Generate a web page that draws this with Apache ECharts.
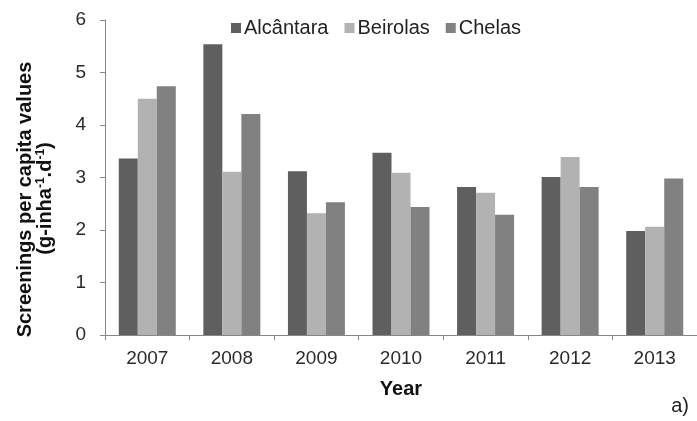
<!DOCTYPE html>
<html>
<head>
<meta charset="utf-8">
<script src="https://cdn.jsdelivr.net/npm/echarts@6/dist/echarts.min.js"></script>
<style>
  html, body { margin: 0; padding: 0; background: #ffffff; }
  #chart { width: 697px; height: 421px; }
</style>
</head>
<body>
<div id="chart"></div>
<script>
// Screenings per capita values by treatment plant, 2007–2013
const years = ['2007', '2008', '2009', '2010', '2011', '2012', '2013'];
const alcantara = [3.36, 5.54, 3.12, 3.47, 2.82, 3.01, 1.98];
const beirolas  = [4.50, 3.11, 2.32, 3.09, 2.71, 3.39, 2.06];
const chelas    = [4.74, 4.21, 2.53, 2.44, 2.29, 2.82, 2.98];
const seriesNames = ['Alcântara', 'Beirolas', 'Chelas'];
const seriesColors = ['#5f5f5f', '#b2b2b2', '#818181'];

const FONT = '"Liberation Sans", Arial, sans-serif';
const chart = echarts.init(document.getElementById('chart'), null, { renderer: 'canvas' });

const makeBar = (name, data, color) => ({
  name: name,
  type: 'bar',
  data: data,
  barWidth: 19,
  barGap: '0%',
  itemStyle: { color: color }
});

chart.setOption({
  animation: false,
  backgroundColor: '#ffffff',
  textStyle: { fontFamily: FONT },
  grid: { left: 105, right: 0, top: 20, bottom: 86 },
  legend: {
    data: seriesNames,
    left: 226,
    top: 13,
    icon: 'rect',
    itemWidth: 10,
    itemHeight: 10,
    itemGap: 16,
    textStyle: { fontFamily: FONT, fontSize: 20, color: '#222', padding: [0, 0, 0, -2] }
  },
  xAxis: {
    type: 'category',
    data: years,
    axisLine: { lineStyle: { color: '#868686', width: 1 } },
    axisTick: { show: true, length: 5, lineStyle: { color: '#868686' } },
    axisLabel: { fontFamily: FONT, fontSize: 19, color: '#2a2a2a', margin: 14 },
    name: 'Year',
    nameLocation: 'middle',
    nameGap: 44,
    nameTextStyle: { fontFamily: FONT, fontSize: 20, fontWeight: 'bold', color: '#111' }
  },
  yAxis: {
    type: 'value',
    min: 0,
    max: 6,
    interval: 1,
    splitLine: { show: false },
    axisLine: { show: true, lineStyle: { color: '#868686', width: 1 } },
    axisTick: { show: true, length: 5, lineStyle: { color: '#868686' } },
    axisLabel: { fontFamily: FONT, fontSize: 19, color: '#2a2a2a', margin: 19 },
    name: '{t1|Screenings per capita values}\n{t2|(g-inha}{sup|-1}{t2|.d}{sup|-1}{end|)}',
    nameLocation: 'middle',
    nameRotate: 90,
    nameGap: 50,
    nameTextStyle: {
      fontFamily: FONT,
      fontWeight: 'bold',
      color: '#111',
      rich: {
        t1: { fontFamily: FONT, fontSize: 20, fontWeight: 'bold', color: '#111', lineHeight: 20, padding: [0, 44, 0, 0] },
        t2: { fontFamily: FONT, fontSize: 20, fontWeight: 'bold', color: '#111', lineHeight: 20 },
        end: { fontFamily: FONT, fontSize: 20, fontWeight: 'bold', color: '#111', lineHeight: 20, padding: [0, 42, 0, 0] },
        sup: { fontFamily: FONT, fontSize: 12, fontWeight: 'bold', color: '#111', lineHeight: 20, verticalAlign: 'top' }
      }
    }
  },
  graphic: [
    {
      type: 'text',
      right: 8,
      top: 396,
      style: { text: 'a)', font: '20px ' + FONT, fill: '#222' }
    }
  ],
  series: [
    makeBar(seriesNames[0], alcantara, seriesColors[0]),
    makeBar(seriesNames[1], beirolas, seriesColors[1]),
    makeBar(seriesNames[2], chelas, seriesColors[2])
  ]
});
</script>
</body>
</html>
